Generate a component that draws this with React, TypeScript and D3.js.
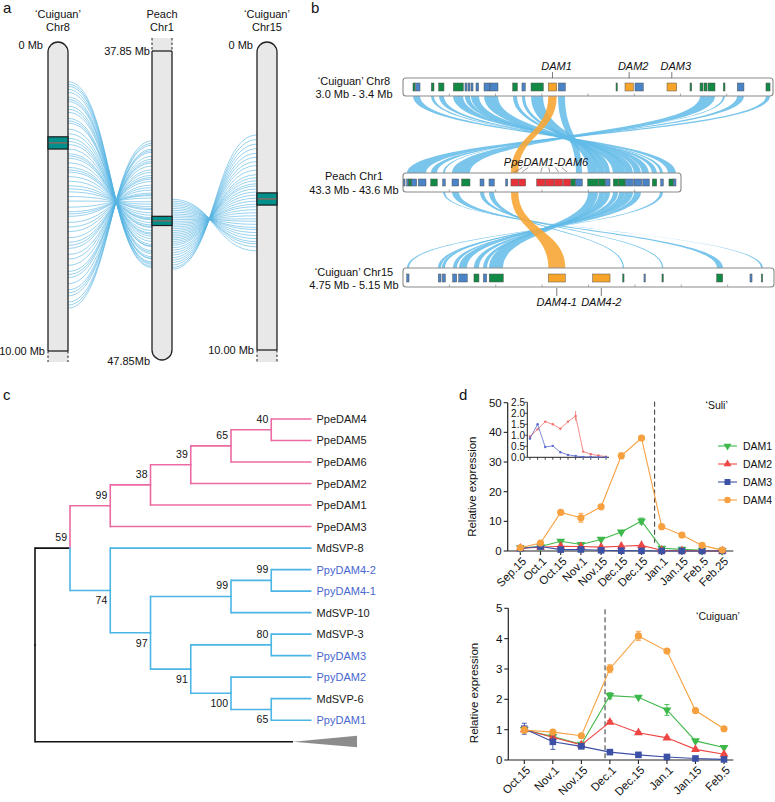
import React from 'react';
import * as d3 from 'd3';

const FONT = "'Liberation Sans', Arial, Helvetica, sans-serif";

// ---------------- Panel a data ----------------
// [Chr8 Mb, Peach Chr1 Mb]
const chr8PeachLinks: [number, number][] = [
  [1.2, 44.9], [1.28, 44.86], [1.35, 44.8], [1.45, 44.76], [1.55, 44.72], [1.7, 44.62], [1.78, 44.6], [1.85, 44.55],
  [2.0, 44.45], [2.1, 44.4], [2.2, 44.35], [2.4, 44.22], [2.48, 44.2], [2.55, 44.15], [2.75, 44.05], [2.9, 43.96],
  [3.05, 43.88], [3.15, 43.82], [3.25, 43.78], [3.4, 43.7], [3.55, 43.6], [3.62, 43.57], [3.7, 43.52], [3.85, 43.44],
  [4.0, 43.35], [4.08, 43.32], [4.15, 43.28], [4.3, 43.2], [4.45, 43.12], [4.6, 43.02], [4.7, 42.98], [4.8, 42.92],
  [4.95, 42.84], [5.1, 42.76], [5.3, 42.64], [5.45, 42.56], [5.52, 42.53], [5.6, 42.48], [5.8, 42.38], [5.95, 42.3],
  [6.1, 42.22], [6.3, 42.1], [6.45, 42.02], [6.55, 41.97], [6.65, 41.9], [6.85, 41.8], [7.0, 41.72], [7.2, 41.6],
  [7.4, 41.5], [7.5, 41.45], [7.6, 41.38], [7.8, 41.28], [8.0, 41.15], [8.1, 41.1], [8.2, 41.05], [8.4, 40.92],
  [8.5, 40.86], [8.6, 40.78],
];
// [Peach Chr1 Mb, Chr15 Mb]
const peachChr15Links: [number, number][] = [
  [42.68, 6.75], [42.74, 6.62], [42.8, 6.52], [42.86, 6.45], [42.92, 6.35], [42.98, 6.25], [43.04, 6.15],
  [43.1, 6.05], [43.16, 5.98], [43.22, 5.88], [43.28, 5.78], [43.34, 5.7], [43.4, 5.6], [43.46, 5.5],
  [43.52, 5.4], [43.58, 5.3], [43.64, 5.22], [43.7, 5.12], [43.76, 5.02], [43.82, 4.92], [43.88, 4.82],
  [43.94, 4.72], [44.0, 4.62], [44.06, 4.55], [44.12, 4.45], [44.18, 4.35], [44.26, 4.25], [44.34, 4.1],
  [44.42, 3.95], [44.5, 3.82], [44.58, 3.68], [44.66, 3.55], [44.74, 3.4], [44.82, 3.25], [44.9, 3.1],
  [44.96, 2.95],
];
const chr8Band = [3.0, 3.4];
const peachBand = [43.3, 43.6];
const chr15Band = [4.75, 5.15];

// ---------------- Panel b data ----------------
const chr8Genes: [number, number, string][] = [
  [3.0108, 3.013, 'g'], [3.0137, 3.0184, 'b'], [3.0306, 3.0335, 'g'], [3.0386, 3.0443, 'g'], [3.0544, 3.0652, 'g'],
  [3.067, 3.0692, 'b'], [3.0703, 3.0724, 'b'], [3.0735, 3.0757, 'b'], [3.0789, 3.0818, 'b'],
  [3.0876, 3.0941, 'b'], [3.0941, 3.1027, 'b'], [3.1186, 3.1236, 'g'], [3.1286, 3.1322, 'b'], [3.1384, 3.1517, 'g'],
  [3.1571, 3.1662, 'o'], [3.1679, 3.1755, 'b'], [3.2303, 3.2317, 'g'], [3.24, 3.249, 'o'], [3.2508, 3.2598, 'b'],
  [3.2854, 3.2959, 'o'], [3.3103, 3.3121, 'g'], [3.3211, 3.3243, 'g'], [3.3254, 3.3286, 'g'], [3.3297, 3.3373, 'g'],
  [3.3463, 3.3481, 'g'], [3.3614, 3.3686, 'b'], [3.3924, 3.3968, 'g'],
];
const peachGenes: [number, number, string][] = [
  [43.3005, 43.3022, 'b'], [43.304, 43.3062, 'b'], [43.3062, 43.3094, 'g'], [43.3094, 43.3148, 'b'], [43.3165, 43.3248, 'b'],
  [43.3299, 43.337, 'g'], [43.3428, 43.3456, 'b'], [43.3529, 43.3601, 'b'], [43.3633, 43.3723, 'g'],
  [43.3831, 43.3874, 'b'], [43.3928, 43.3985, 'b'], [43.4108, 43.413, 'b'],
  [43.4165, 43.4244, 'r'], [43.4249, 43.4324, 'r'], [43.4443, 43.4532, 'r'], [43.4536, 43.4629, 'r'],
  [43.4633, 43.4723, 'r'], [43.473, 43.481, 'r'], [43.4813, 43.4859, 'g'], [43.4864, 43.4935, 'b'],
  [43.4993, 43.5107, 'g'], [43.5112, 43.518, 'g'], [43.5183, 43.5234, 'b'], [43.5269, 43.5323, 'g'],
  [43.5328, 43.5396, 'g'], [43.5399, 43.5485, 'b'], [43.5493, 43.5576, 'b'], [43.5587, 43.5658, 'b'],
  [43.569, 43.5738, 'g'], [43.5781, 43.5809, 'b'], [43.587, 43.5917, 'g'], [43.5917, 43.5946, 'b'],
];
const chr15Genes: [number, number, string][] = [
  [4.754, 4.7565, 'b'], [4.7881, 4.791, 'b'], [4.7924, 4.7956, 'b'], [4.8036, 4.8079, 'b'], [4.8101, 4.8193, 'b'],
  [4.8265, 4.8319, 'g'], [4.8366, 4.8402, 'b'], [4.843, 4.8581, 'g'], [4.9067, 4.925, 'o'], [4.9545, 4.9732, 'o'],
  [4.9869, 4.9883, 'g'], [5.0098, 5.0112, 'b'], [5.0292, 5.0306, 'g'], [5.0882, 5.0947, 'g'],
  [5.1241, 5.1263, 'b'], [5.1363, 5.1378, 'g'],
];
const chr8Labels: [string, number][] = [['DAM1', 3.1616], ['DAM2', 3.2445], ['DAM3', 3.2906]];
const chr15Labels: [string, number][] = [['DAM4-1', 4.9158], ['DAM4-2', 4.9638]];
// [chr8 start, chr8 end, peach start, peach end, kind]
const chr8PeachRibbons: [number, number, number, number, string][] = [
  [3.0108, 3.0184, 43.586, 43.5946, 'b'], [3.0303, 3.0335, 43.5773, 43.5806, 'b'], [3.0389, 3.0443, 43.5687, 43.5741, 'b'],
  [3.0541, 3.0649, 43.5579, 43.5654, 'b'], [3.067, 3.0724, 43.5493, 43.5568, 'b'], [3.0735, 3.0822, 43.5396, 43.5482, 'b'],
  [3.0876, 3.1027, 43.5266, 43.5396, 'b'], [3.1189, 3.1232, 43.518, 43.5234, 'b'], [3.1286, 3.1319, 43.5104, 43.518, 'b'],
  [3.1384, 3.1514, 43.4996, 43.5104, 'b'], [3.1676, 3.1751, 43.4867, 43.4932, 'b'],
  [3.3211, 3.3373, 43.3529, 43.3723, 'b'], [3.3459, 3.3481, 43.3432, 43.3453, 'b'], [3.3611, 3.3686, 43.3302, 43.3367, 'b'],
  [3.3924, 3.3968, 43.3043, 43.3248, 'b'], [3.1571, 3.1662, 43.4165, 43.4244, 'o'],
];
// [peach start, peach end, chr15 start, chr15 end, kind]
const peachChr15Ribbons: [number, number, number, number, string][] = [
  [43.3432, 43.3453, 5.136, 5.1381, 'b'], [43.3529, 43.3604, 5.0885, 5.095, 'b'], [43.3831, 43.3874, 5.0292, 5.0306, 'b'],
  [43.3928, 43.3982, 4.9869, 4.9883, 'b'], [43.4996, 43.5104, 4.8427, 4.8578, 'b'], [43.5115, 43.518, 4.8363, 4.8406, 'b'],
  [43.518, 43.5234, 4.8265, 4.8319, 'b'], [43.5266, 43.532, 4.8104, 4.819, 'b'], [43.5331, 43.5396, 4.8039, 4.8082, 'b'],
  [43.5396, 43.5482, 4.792, 4.7953, 'b'], [43.5493, 43.5568, 4.7877, 4.791, 'b'], [43.5773, 43.5806, 4.7543, 4.7565, 'b'],
  [43.4165, 43.4244, 4.9067, 4.925, 'o'],
];

// ---------------- Panel c data ----------------
const tree: any = {
  name: 'root', children: [
    { name: 'n59', boot: 59, pos: 'above', children: [
      { name: 'n99', boot: 99, pos: 'above', clade: 'pink', children: [
        { name: 'n38', boot: 38, pos: 'above', children: [
          { name: 'n39', boot: 39, pos: 'above', children: [
            { name: 'n65', boot: 65, pos: 'above', children: [
              { name: 'n40', boot: 40, pos: 'above', children: [{ name: 'PpeDAM4' }, { name: 'PpeDAM5' }] },
              { name: 'PpeDAM6' }] },
            { name: 'PpeDAM2' }] },
          { name: 'PpeDAM1' }] },
        { name: 'PpeDAM3' }] },
      { name: 'n74', boot: 74, pos: 'below', clade: 'blue', children: [
        { name: 'MdSVP-8' },
        { name: 'n97', boot: 97, pos: 'below', children: [
          { name: 'n99b', boot: 99, pos: 'above', children: [
            { name: 'n99c', boot: 99, pos: 'above', children: [{ name: 'PpyDAM4-2' }, { name: 'PpyDAM4-1' }] },
            { name: 'MdSVP-10' }] },
          { name: 'n91', boot: 91, pos: 'below', children: [
            { name: 'n80', boot: 80, pos: 'above', children: [{ name: 'MdSVP-3' }, { name: 'PpyDAM3' }] },
            { name: 'n100', boot: 100, pos: 'below', children: [
              { name: 'PpyDAM2' },
              { name: 'n65b', boot: 65, pos: 'below', children: [{ name: 'MdSVP-6' }, { name: 'PpyDAM1' }] }] }] }] }] }] },
    { name: 'outgroup', collapsed: true },
  ],
};

// ---------------- Panel d data ----------------
const damNames = ['DAM1', 'DAM2', 'DAM3', 'DAM4'];
const damColors = ['#3fb84b', '#ee4643', '#3c50a6', '#f7a040'];
const suliDates = ['Sep.15', 'Oct.1', 'Oct.15', 'Nov.1', 'Nov.15', 'Dec.15', 'Dec.15', 'Jan.1', 'Jan.15', 'Feb.5', 'Feb.25'];
const suliDAM1 = [1.0, 1.5, 3.3, 2.2, 3.9, 6.4, 10.1, 0.9, 0.55, 0.2, 0.1];
const suliDAM2 = [0.94, 1.27, 1.62, 1.5, 1.3, 1.62, 1.88, 0.26, 0.14, 0.08, 0.03];
const suliDAM3 = [0.86, 1.5, 0.47, 0.52, 0.23, 0.11, 0.06, 0.02, 0.02, 0.01, 0.01];
const suliDAM4 = [1.1, 2.7, 13.0, 11.2, 14.9, 32.1, 38.1, 8.2, 5.4, 1.9, 0.3];
const suliErr1 = [0.1, 0.1, 0.3, 0.2, 0.3, 0.3, 1.0, 0.1, 0.1, 0.05, 0.05];
const suliErr2 = [0.08, 0.04, 0.04, 0.03, 0.04, 0.04, 0.22, 0.03, 0.02, 0.02, 0.01];
const suliErr3 = [0.08, 0.05, 0.03, 0.04, 0.02, 0.02, 0.01, 0.01, 0.01, 0.01, 0.01];
const suliErr4 = [0.2, 0.3, 0.4, 1.5, 0.4, 0.9, 0.5, 0.3, 0.3, 0.2, 0.1];
const suliDormancy = 6.65;
const cuiDates = ['Oct.15', 'Nov.1', 'Nov.15', 'Dec.1', 'Dec.15', 'Jan.1', 'Jan.15', 'Feb.5'];
const cuiDAM1 = [1.0, 0.77, 0.52, 2.12, 2.07, 1.65, 0.63, 0.41];
const cuiDAM2 = [1.0, 0.75, 0.5, 1.25, 0.9, 0.73, 0.35, 0.19];
const cuiDAM3 = [1.03, 0.6, 0.45, 0.26, 0.17, 0.1, 0.05, 0.02];
const cuiDAM4 = [0.99, 0.92, 0.8, 3.01, 4.09, 3.59, 1.63, 1.03];
const cuiErr1 = [0.05, 0.05, 0.03, 0.1, 0.03, 0.18, 0.04, 0.03];
const cuiErr2 = [0.05, 0.05, 0.03, 0.05, 0.04, 0.04, 0.03, 0.02];
const cuiErr3 = [0.18, 0.25, 0.05, 0.03, 0.02, 0.02, 0.02, 0.01];
const cuiErr4 = [0.1, 0.06, 0.04, 0.13, 0.15, 0.04, 0.07, 0.04];
const cuiDormancy = 2.83;
const suliTicks = [0, 10, 20, 30, 40, 50];
const insetTicks = [0, 0.5, 1, 1.5, 2, 2.5];
const cuiTicks = [0, 1, 2, 3, 4, 5];

const geneColor: Record<string, string> = { b: '#4a83c6', g: '#128a45', o: '#f6a52a', r: '#e8323a' };
const linkColor = '#55b3e3';

function ribbonPath(a1: number, a2: number, y1: number, b1: number, b2: number, y2: number) {
  const ym = (y1 + y2) / 2;
  return `M${a1},${y1}C${a1},${ym} ${b1},${ym} ${b1},${y2}L${b2},${y2}C${b2},${ym} ${a2},${ym} ${a2},${y1}Z`;
}

function marker(i: number, x: number, y: number, scale = 1, key?: any) {
  const c = damColors[i];
  if (i === 3) return <circle key={key} cx={x} cy={y} r={3.6 * scale} fill={c} />;
  if (i === 2) { const s = 3.3 * scale; return <rect key={key} x={x - s} y={y - s} width={2 * s} height={2 * s} fill={c} />; }
  const p = d3.symbol().type(d3.symbolTriangle).size(34 * scale * scale)() as string;
  return <path key={key} d={p} transform={`translate(${x},${y}) rotate(${i === 0 ? 180 : 0})`} fill={c} />;
}

export default function App() {
  // ---- Panel a ----
  const yChr8 = d3.scaleLinear([0, 10], [45, 351]);
  const yPeach = d3.scaleLinear([37.85, 47.85], [51, 358]);
  const yChr15 = d3.scaleLinear([0, 10], [45, 350]);
  const link = d3.linkHorizontal<any, [number, number]>();
  const c8x = 48, px = 152, c15x = 257, cw = 20;

  const chromRoundTop = (x: number, yTop: number, yLine: number, yEnd: number, key: string) => (
    <g key={key}>
      <path d={`M${x},${yTop + 10}A10,10 0 0 1 ${x + cw},${yTop + 10}L${x + cw},${yEnd}L${x},${yEnd}Z`} fill="#e8e8e8" />
      <path d={`M${x},${yLine}L${x},${yTop + 10}A10,10 0 0 1 ${x + cw},${yTop + 10}L${x + cw},${yLine}`} fill="none" stroke="#222" strokeWidth={1.3} />
      <line x1={x} x2={x + cw} y1={yLine} y2={yLine} stroke="#222" strokeWidth={1.3} />
      <line x1={x} x2={x} y1={yLine} y2={yEnd} stroke="#222" strokeWidth={1} strokeDasharray="2.5,2" />
      <line x1={x + cw} x2={x + cw} y1={yLine} y2={yEnd} stroke="#222" strokeWidth={1} strokeDasharray="2.5,2" />
    </g>
  );
  const band = (x: number, y0: number, y1: number, key: string) => (
    <g key={key}>
      <rect x={x} y={y0} width={cw} height={y1 - y0} fill="#008f8a" stroke="#1d1d1d" strokeWidth={1.2} />
      <line x1={x + 1} x2={x + cw - 1} y1={(y0 + y1) / 2} y2={(y0 + y1) / 2} stroke="#c2564e" strokeWidth={1} />
    </g>
  );

  // ---- Panel b ----
  const xChr8 = d3.scaleLinear([3.0, 3.4], [403, 773]);
  const xPeach = d3.scaleLinear([43.3, 43.6], [403, 681]);
  const xChr15 = d3.scaleLinear([4.75, 5.15], [403, 774]);
  const tracks = [
    { scale: xChr8, genes: chr8Genes, y0: 78, y1: 96, g0: 83, g1: 91 },
    { scale: xPeach, genes: peachGenes, y0: 173, y1: 192, g0: 179, g1: 186 },
    { scale: xChr15, genes: chr15Genes, y0: 268, y1: 287, g0: 274, g1: 282 },
  ];

  // ---- Panel c ----
  const root = d3.hierarchy(tree);
  const leaves = root.leaves();
  const yLeaf = d3.scaleLinear([0, 15], [419, 741.7]);
  const xLevel = d3.scaleLinear([0, 1, 7], [35, 70, 311.5]);
  leaves.forEach((l: any, i: number) => { l.py = yLeaf(i); });
  root.eachAfter((n: any) => {
    n.px = xLevel(7 - n.height);
    if (n.children) n.py = (n.children[0].py + n.children[n.children.length - 1].py) / 2;
    if (n.data.collapsed) n.px = 293;
  });
  root.eachBefore((n: any) => {
    n.color = n.data.clade === 'pink' ? '#ec6aa3' : n.data.clade === 'blue' ? '#4bb5e6' : n.parent ? n.parent.color : '#111';
  });
  const branches: any[] = root.descendants().filter((n: any) => n.parent);

  // ---- Panel d ----
  const xTop = d3.scaleLinear([0, 10], [520.3, 722.3]);
  const yTop = d3.scaleLinear([0, 50], [551, 402.7]);
  const xIn = d3.scaleLinear([0, 10], [530, 606]);
  const yIn = d3.scaleLinear([0, 2.5], [457.3, 402.3]);
  const xBot = d3.scaleLinear([0, 7], [524.3, 724]);
  const yBot = d3.scaleLinear([0, 5], [760, 608.3]);
  const suliSeries = [suliDAM1, suliDAM2, suliDAM3, suliDAM4];
  const suliErrs = [suliErr1, suliErr2, suliErr3, suliErr4];
  const cuiSeries = [cuiDAM1, cuiDAM2, cuiDAM3, cuiDAM4];
  const cuiErrs = [cuiErr1, cuiErr2, cuiErr3, cuiErr4];

  const drawChart = (series: number[][], errs: number[][], xs: any, ys: any, key: string) => (
    <g key={key}>
      {series.map((vals, si) => {
        const line = d3.line<number>().x((_, i) => xs(i)).y(v => ys(v));
        return (
          <g key={si}>
            <path d={line(vals) as string} fill="none" stroke={damColors[si]} strokeWidth={1.1} />
            {vals.map((v, i) => {
              const e = errs[si][i];
              const top = ys(v + e), bot = ys(Math.max(0, v - e));
              return bot - top > 2 ? (
                <g key={'e' + i} stroke={damColors[si]} strokeWidth={0.9}>
                  <line x1={xs(i)} x2={xs(i)} y1={top} y2={bot} />
                  <line x1={xs(i) - 2.5} x2={xs(i) + 2.5} y1={top} y2={top} />
                  <line x1={xs(i) - 2.5} x2={xs(i) + 2.5} y1={bot} y2={bot} />
                </g>
              ) : null;
            })}
            {vals.map((v, i) => marker(si, xs(i), ys(v), 1, 'm' + i))}
          </g>
        );
      })}
    </g>
  );

  const axes = (xs: any, ys: any, ticks: number[], dates: string[], xAxisEnd: number, yAxisX: number, key: string) => {
    const y0 = ys(0);
    return (
      <g key={key} fontSize={11.5} fill="#111">
        <line x1={yAxisX} x2={yAxisX} y1={y0} y2={ys(ticks[ticks.length - 1])} stroke="#222" strokeWidth={1.2} />
        <line x1={yAxisX} x2={xAxisEnd} y1={y0} y2={y0} stroke="#222" strokeWidth={1.2} />
        {ticks.map(t => (
          <g key={t}>
            <line x1={yAxisX - 4} x2={yAxisX} y1={ys(t)} y2={ys(t)} stroke="#222" strokeWidth={1.1} />
            <text x={yAxisX - 6} y={ys(t)} dy="0.35em" textAnchor="end">{t}</text>
          </g>
        ))}
        {dates.map((d, i) => (
          <g key={'d' + i}>
            <line x1={xs(i)} x2={xs(i)} y1={y0} y2={y0 + 4} stroke="#222" strokeWidth={1.1} />
            <text transform={`translate(${xs(i) + 4},${y0 + 8}) rotate(-45)`} textAnchor="end" dy="0.35em" fontSize={11.5}>{d}</text>
          </g>
        ))}
      </g>
    );
  };

  return (
    <svg width={775} height={802} style={{ position: 'absolute', left: 0, top: 0, fontFamily: FONT }}>
      <rect width={775} height={802} fill="#fff" />
      {/* Panel labels */}
      <g fontSize={15} fill="#111">
        <text x={3} y={13}>a</text>
        <text x={311} y={13}>b</text>
        <text x={3} y={400}>c</text>
        <text x={459} y={400}>d</text>
      </g>

      {/* ===== Panel a ===== */}
      <g fontSize={11} fill="#111" textAnchor="middle">
        <text x={58} y={18}>‘Cuiguan’</text>
        <text x={58} y={31}>Chr8</text>
        <text x={162} y={18}>Peach</text>
        <text x={162} y={31}>Chr1</text>
        <text x={267} y={18}>‘Cuiguan’</text>
        <text x={267} y={31}>Chr15</text>
      </g>
      <g fill="none" stroke={linkColor} strokeWidth={0.8} strokeOpacity={0.75}>
        {chr8PeachLinks.map(([a, b], i) => (
          <path key={'l8' + i} d={link({ source: [c8x + cw, yChr8(a)], target: [px, yPeach(b)] } as any) as string} />
        ))}
        {peachChr15Links.map(([a, b], i) => (
          <path key={'l15' + i} d={link({ source: [px + cw, yPeach(a)], target: [c15x, yChr15(b)] } as any) as string} />
        ))}
      </g>
      {chromRoundTop(c8x, 42, yChr8(10), 362, 'c8')}
      {chromRoundTop(c15x, 42, yChr15(10), 362, 'c15')}
      <g>
        <path d={`M${px},38L${px + cw},38L${px + cw},350A10,10 0 0 1 ${px},350Z`} fill="#e8e8e8" />
        <path d={`M${px},${yPeach(37.85)}L${px},350A10,10 0 0 0 ${px + cw},350L${px + cw},${yPeach(37.85)}`} fill="none" stroke="#222" strokeWidth={1.3} />
        <line x1={px} x2={px + cw} y1={yPeach(37.85)} y2={yPeach(37.85)} stroke="#222" strokeWidth={1.3} />
        <line x1={px} x2={px} y1={38} y2={yPeach(37.85)} stroke="#222" strokeDasharray="2.5,2" />
        <line x1={px + cw} x2={px + cw} y1={38} y2={yPeach(37.85)} stroke="#222" strokeDasharray="2.5,2" />
      </g>
      {band(c8x, yChr8(chr8Band[0]), yChr8(chr8Band[1]), 'b8')}
      {band(px, yPeach(peachBand[0]) - 2, yPeach(peachBand[1]) - 2, 'bp')}
      {band(c15x, yChr15(chr15Band[0]) + 3, yChr15(chr15Band[1]) + 3, 'b15')}
      <g fontSize={11} fill="#111" textAnchor="end">
        <text x={43} y={yChr8(0)} dy="0.35em">0 Mb</text>
        <text x={45} y={yChr8(10)} dy="0.35em">10.00 Mb</text>
        <text x={150} y={yPeach(37.85)} dy="0.35em">37.85 Mb</text>
        <text x={150} y={361} dy="0.35em">47.85Mb</text>
        <text x={253} y={yChr15(0)} dy="0.35em">0 Mb</text>
        <text x={254} y={yChr15(10)} dy="0.35em">10.00 Mb</text>
      </g>

      {/* ===== Panel b ===== */}
      <g>
        {chr8PeachRibbons.map(([a1, a2, b1, b2, k], i) => (
          <path key={'r8' + i} d={ribbonPath(xChr8(a1), xChr8(a2), 96, xPeach(b1), xPeach(b2), 173)}
            fill={k === 'o' ? '#f7a636' : '#62bbe7'} fillOpacity={k === 'o' ? 0.9 : 0.85} />
        ))}
        {peachChr15Ribbons.map(([a1, a2, b1, b2, k], i) => (
          <path key={'r15' + i} d={ribbonPath(xPeach(a1), xPeach(a2), 192, xChr15(b1), xChr15(b2), 268)}
            fill={k === 'o' ? '#f7a636' : '#62bbe7'} fillOpacity={k === 'o' ? 0.9 : 0.85} />
        ))}
      </g>
      {tracks.map((t, ti) => {
        const [r0, r1] = t.scale.range();
        const ticks = t.scale.ticks(8).filter((v: number) => t.scale(v) > r0 + 2 && t.scale(v) < r1 - 2);
        return (
          <g key={'t' + ti}>
            <rect x={r0} y={t.y0} width={r1 - r0} height={t.y1 - t.y0} rx={3} fill="#fff" stroke="#8a8a8a" strokeWidth={1.1} />
            {ticks.map((v: number) => (
              <line key={v} x1={t.scale(v)} x2={t.scale(v)} y1={t.y1 - 2.5} y2={t.y1} stroke="#888" strokeWidth={0.7} />
            ))}
            {t.genes.map(([s, e, k], gi) => (
              <rect key={gi} x={t.scale(s)} y={t.g0} width={Math.max(1.3, t.scale(e) - t.scale(s))} height={t.g1 - t.g0}
                fill={geneColor[k]} stroke="#555" strokeWidth={0.5} />
            ))}
          </g>
        );
      })}
      <g fontSize={11} fill="#111" textAnchor="middle">
        <text x={354} y={84.5}>‘Cuiguan’ Chr8</text>
        <text x={354} y={98}>3.0 Mb - 3.4 Mb</text>
        <text x={354} y={180}>Peach Chr1</text>
        <text x={354} y={193.5}>43.3 Mb - 43.6 Mb</text>
        <text x={354} y={275.5}>‘Cuiguan’ Chr15</text>
        <text x={354} y={289}>4.75 Mb - 5.15 Mb</text>
      </g>
      <g fontSize={11} fontStyle="italic" fill="#111" textAnchor="middle">
        {chr8Labels.map(([n, m]) => (
          <g key={n}>
            <text x={xChr8(m) + 4} y={70}>{n}</text>
            <line x1={xChr8(m)} x2={xChr8(m)} y1={72} y2={78} stroke="#444" strokeWidth={0.7} />
          </g>
        ))}
        {chr15Labels.map(([n, m]) => (
          <g key={n}>
            <text x={xChr15(m)} y={306}>{n}</text>
            <line x1={xChr15(m)} x2={xChr15(m)} y1={288} y2={296} stroke="#444" strokeWidth={0.7} />
          </g>
        ))}
        <text x={546} y={166}>PpeDAM1-DAM6</text>
        {peachGenes.filter(g => g[2] === 'r').map(([s, e], i) => {
          const cx = xPeach((s + e) / 2);
          return <line key={'pl' + i} x1={546 + (cx - 546) * 0.75} x2={cx} y1={167.5} y2={172} stroke="#555" strokeWidth={0.6} />;
        })}
      </g>

      {/* ===== Panel c ===== */}
      <g strokeWidth={1.6} fill="none">
        {branches.map((n: any, i: number) => (
          <g key={'br' + i} stroke={n.color}>
            <line x1={n.parent.px} x2={n.parent.px} y1={n.parent.py} y2={n.py} strokeLinecap="square" />
            <line x1={n.parent.px} x2={n.px} y1={n.py} y2={n.py} />
          </g>
        ))}
      </g>
      {leaves.filter((l: any) => l.data.collapsed).map((l: any) => (
        <path key="og" d={`M${l.px},${l.py}L357,${l.py - 6}L357,${l.py + 5.5}Z`} fill="#8c8c8c" />
      ))}
      <g fontSize={11} fill="#111">
        {leaves.filter((l: any) => !l.data.collapsed).map((l: any) => (
          <text key={l.data.name} x={316.5} y={l.py} dy="0.36em" fill={l.data.name.startsWith('Ppy') ? '#4a67cf' : '#1a1a1a'}>{l.data.name}</text>
        ))}
        {root.descendants().filter((n: any) => n.data.boot != null).map((n: any) => (
          <text key={'bs' + n.data.name} x={n.px - 3} y={n.data.pos === 'above' ? n.py - 7 : n.py + 14} textAnchor="end" fontSize={10.5}>{n.data.boot}</text>
        ))}
      </g>

      {/* ===== Panel d top ===== */}
      {axes(xTop, yTop, suliTicks, suliDates, 733.3, 507.7, 'axTop')}
      <line x1={xTop(suliDormancy)} x2={xTop(suliDormancy)} y1={401.7} y2={543} stroke="#333" strokeWidth={1} strokeDasharray="5,3" />
      {drawChart(suliSeries, suliErrs, xTop, yTop, 'chTop')}
      <text x={716.7} y={405} dy="0.35em" fontSize={10.5} textAnchor="middle" fill="#111">‘Suli’</text>
      <text transform="translate(476,486.7) rotate(-90)" textAnchor="middle" fontSize={11.5} fill="#111">Relative expression</text>
      {/* inset */}
      <g>
        <line x1={527.3} x2={527.3} y1={yIn(0)} y2={yIn(2.5)} stroke="#222" strokeWidth={1} />
        <line x1={527.3} x2={609} y1={yIn(0)} y2={yIn(0)} stroke="#222" strokeWidth={1} />
        {insetTicks.map(t => (
          <g key={'it' + t}>
            <line x1={524.5} x2={527.3} y1={yIn(t)} y2={yIn(t)} stroke="#222" strokeWidth={0.8} />
            <text x={525} y={yIn(t)} dy="0.35em" textAnchor="end" fontSize={10} fill="#111">{t.toFixed(1)}</text>
          </g>
        ))}
        {suliDates.map((_, i) => (
          <line key={'ix' + i} x1={xIn(i)} x2={xIn(i)} y1={yIn(0)} y2={yIn(0) + 2.5} stroke="#222" strokeWidth={0.8} />
        ))}
        {[suliDAM2, suliDAM3].map((vals, k) => {
          const si = k + 1;
          const c = si === 1 ? '#f2706c' : '#5a6acb';
          const line = d3.line<number>().x((_, i) => xIn(i)).y(v => yIn(v));
          return (
            <g key={'in' + si}>
              <path d={line(vals) as string} fill="none" stroke={c} strokeWidth={0.8} />
              {vals.map((v, i) => {
                const e = suliErrs[si][i];
                return yIn(v - e) - yIn(v + e) > 2 ? (
                  <line key={'ie' + i} x1={xIn(i)} x2={xIn(i)} y1={yIn(v + e)} y2={yIn(v - e)} stroke={c} strokeWidth={0.8} />
                ) : null;
              })}
              {vals.map((v, i) => <circle key={'ic' + i} cx={xIn(i)} cy={yIn(v)} r={1.2} fill={c} />)}
            </g>
          );
        })}
      </g>
      {/* legend */}
      <g fontSize={10.5} fill="#111">
        {damNames.map((n, i) => {
          const y = 446 + i * 18;
          return (
            <g key={n}>
              <line x1={718} x2={737} y1={y} y2={y} stroke={damColors[i]} strokeWidth={1.1} />
              {marker(i, 727.5, y, 0.9)}
              <text x={743} y={y} dy="0.36em">{n}</text>
            </g>
          );
        })}
      </g>

      {/* ===== Panel d bottom ===== */}
      {axes(xBot, yBot, cuiTicks, cuiDates, 733.3, 508.3, 'axBot')}
      <line x1={xBot(cuiDormancy)} x2={xBot(cuiDormancy)} y1={609.3} y2={760} stroke="#333" strokeWidth={1} strokeDasharray="5,3" />
      {drawChart(cuiSeries, cuiErrs, xBot, yBot, 'chBot')}
      <text x={718} y={616.7} dy="0.35em" fontSize={10.5} textAnchor="middle" fill="#111">‘Cuiguan’</text>
      <text transform="translate(478.3,693) rotate(-90)" textAnchor="middle" fontSize={11.5} fill="#111">Relative expression</text>
    </svg>
  );
}
